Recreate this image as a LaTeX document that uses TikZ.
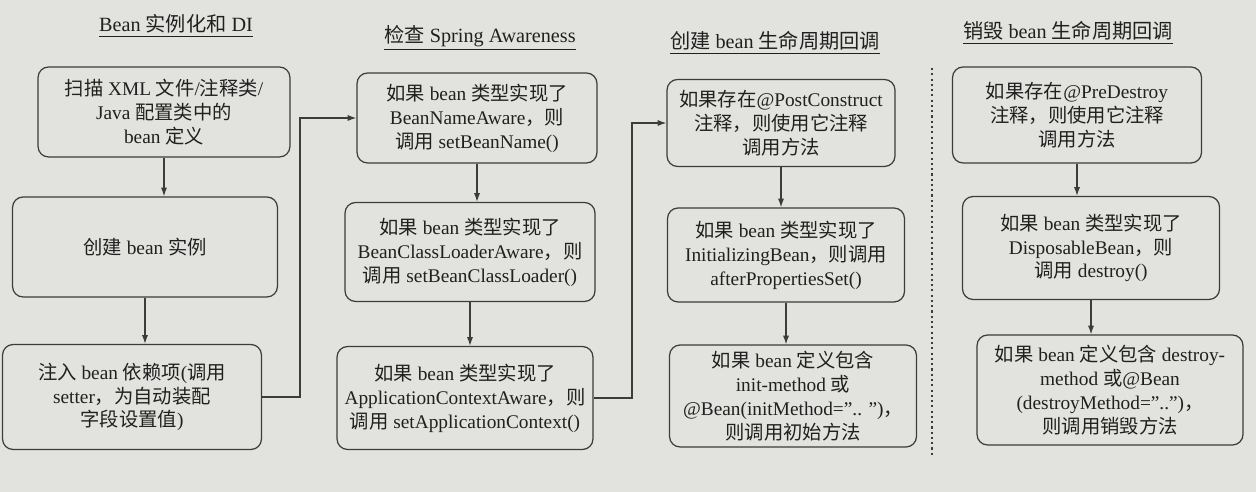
\documentclass[tikz,border=0pt]{standalone}
\usepackage{fontspec}
\setmainfont{Liberation Serif}
\newfontfamily\cjk{Noto Sans CJK SC}
\newXeTeXintercharclass\cjkclass
\XeTeXinterchartokenstate=1
\count255="3000
\loop \XeTeXcharclass\count255=\cjkclass \ifnum\count255<"303F \advance\count255 by 1 \repeat
\count255="4E00
\loop \XeTeXcharclass\count255=\cjkclass \ifnum\count255<"9FFF \advance\count255 by 1 \repeat
\count255="FF00
\loop \XeTeXcharclass\count255=\cjkclass \ifnum\count255<"FFEF \advance\count255 by 1 \repeat
\XeTeXinterchartoks 0 \cjkclass={\cjk}
\XeTeXinterchartoks 4095 \cjkclass={\cjk}
\XeTeXinterchartoks \cjkclass 0={\rmfamily}
\XeTeXinterchartoks \cjkclass 4095={\rmfamily}
\usetikzlibrary{arrows.meta}
\definecolor{paper}{RGB}{226,226,223}
\definecolor{ink}{RGB}{32,32,32}
\definecolor{edge}{RGB}{60,60,60}

\begin{document}
\begin{tikzpicture}[x=0.02cm, y=-0.02cm,
    lifebox/.style={draw=edge, line width=0.7pt, rounded corners=6pt, align=center,
        inner sep=1pt, text=ink, font=\fontsize{11}{13.6}\selectfont},
    coltitle/.style={text=ink, font=\fontsize{11.5}{14}\selectfont},
    arr/.style={draw=edge, line width=0.7pt, -{Latex[length=5pt,width=3.5pt]}}]
    \fill[paper] (0,0) rectangle (1256,492);
    \useasboundingbox (0,0) rectangle (1256,492);

    \node[coltitle] (t1) at (176,26) {\underline{Bean 实例化和 DI}};
    \node[coltitle] (t2) at (480,38) {\underline{检查 Spring Awareness}};
    \node[coltitle] (t3) at (775,43) {\underline{创建 bean 生命周期回调}};
    \node[coltitle] (t4) at (1068,33) {\underline{销毁 bean 生命周期回调}};

    \node[lifebox, minimum width=5.04cm, minimum height=1.8cm] (scan) at (164,112)
        {扫描 XML 文件/注释类/\\Java 配置类中的\\bean 定义};
    \node[lifebox, minimum width=5.3cm, minimum height=2cm] (inst) at (145,247)
        {创建 bean 实例};
    \node[lifebox, minimum width=5.18cm, minimum height=2.1cm] (inject) at (132,397)
        {注入 bean 依赖项(调用\\setter，为自动装配\\字段设置值)};

    \node[lifebox, minimum width=4.8cm, minimum height=1.8cm] (bna) at (477,118)
        {如果 bean 类型实现了\\BeanNameAware，则\\调用 setBeanName()};
    \node[lifebox, minimum width=5cm, minimum height=1.98cm] (bcla) at (470,252)
        {如果 bean 类型实现了\\BeanClassLoaderAware，则\\调用 setBeanClassLoader()};
    \node[lifebox, minimum width=5.12cm, minimum height=2.06cm] (aca) at (465,398)
        {如果 bean 类型实现了\\ApplicationContextAware，则\\调用 setApplicationContext()};

    \node[lifebox, minimum width=4.56cm, minimum height=1.74cm] (post) at (781,123)
        {如果存在@PostConstruct\\注释，则使用它注释\\调用方法};
    \node[lifebox, minimum width=4.74cm, minimum height=1.88cm] (ibean) at (786,255)
        {如果 bean 类型实现了\\InitializingBean，则调用\\afterPropertiesSet()};
    \node[lifebox, minimum width=4.94cm, minimum height=2.04cm] (initm) at (793,396)
        {如果 bean 定义包含\\init-method 或\\@Bean(initMethod=".. ")，\\则调用初始方法};

    \node[lifebox, minimum width=4.98cm, minimum height=1.92cm] (pre) at (1077,115)
        {如果存在@PreDestroy\\注释，则使用它注释\\调用方法};
    \node[lifebox, minimum width=5.14cm, minimum height=2.06cm] (dbean) at (1091,248)
        {如果 bean 类型实现了\\DisposableBean，则\\调用 destroy()};
    \node[lifebox, minimum width=5.32cm, minimum height=2.2cm] (destm) at (1110,390)
        {如果 bean 定义包含 destroy-\\method 或@Bean\\(destroyMethod="..")，\\则调用销毁方法};

    \coordinate (turn1) at (300,0);
    \coordinate (turn2) at (632,0);

    \draw[arr] (scan.south) -- (scan.south |- inst.north);
    \draw[arr] (inst.south) -- (inst.south |- inject.north);
    \draw[arr] (inject.east) -- (inject.east -| turn1) |- (bna.west);
    \draw[arr] (bna.south) -- (bna.south |- bcla.north);
    \draw[arr] (bcla.south) -- (bcla.south |- aca.north);
    \draw[arr] (aca.east) -- (aca.east -| turn2) |- (post.west);
    \draw[arr] (post.south) -- (post.south |- ibean.north);
    \draw[arr] (ibean.south) -- (ibean.south |- initm.north);
    \draw[arr] (pre.south) -- (pre.south |- dbean.north);
    \draw[arr] (dbean.south) -- (dbean.south |- destm.north);

    \draw[edge, line width=1.2pt, dash pattern=on 1.2pt off 1.8pt] (932,68) -- (932,455);
\end{tikzpicture}
\end{document}
